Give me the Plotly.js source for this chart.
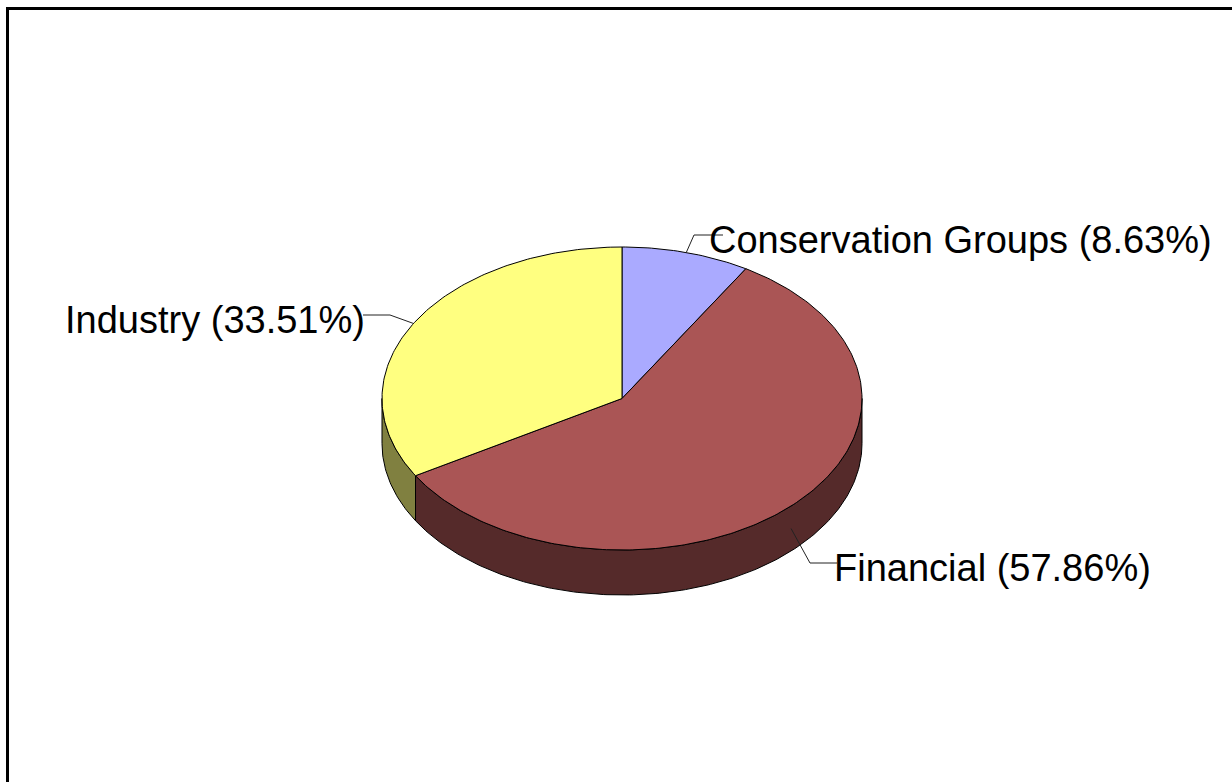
<!DOCTYPE html>
<html>
<head>
<meta charset="utf-8">
<script src="https://cdn.plot.ly/plotly-3.0.1.min.js"></script>
<style>html,body{margin:0;padding:0;background:#fff}#chart{width:1232px;height:782px}</style>
</head>
<body>
<div id="chart"></div>
<script>
// Funding sources, in drawing order clockwise from twelve o'clock
const categories = ['Conservation Groups', 'Financial', 'Industry'];
const shares = [8.63, 57.86, 33.51];
const topColors = ['#AAAAFF', '#AA5555', '#FFFF80'];
const sideColors = ['#555580', '#552A2A', '#808040'];

// Tilted-disc geometry, in axis units (the axes span the page one unit per pixel)
const cx = 622, cy = 398.5, rx = 240, ry = 151.5, depth = 45;
const pageW = 1232, pageH = 782;

// Leader elbows and label anchors per category
const elbows = [[694, 235], [810, 563], [390, 315]];
const leaderEnds = [[723, 235], [837, 563], [363, 315]];
const labelPos = [[707, 240], [832, 568], [63, 320]];
const labelFontSize = 38;

const rad = p => p / 100 * 2 * Math.PI;
const rimPoint = (p, drop) => [cx + rx * Math.sin(rad(p)), cy - ry * Math.cos(rad(p)) + drop];

function arc(p0, p1, drop) {
  const steps = Math.max(2, Math.ceil((p1 - p0) * 4));
  const pts = [];
  for (let i = 0; i <= steps; i++) pts.push(rimPoint(p0 + (p1 - p0) * i / steps, drop));
  return pts;
}

function polygon(pts, fill) {
  return {
    x: pts.map(p => p[0]), y: pts.map(p => p[1]),
    type: 'scatter', mode: 'lines', fill: 'toself', fillcolor: fill,
    line: {color: '#000', width: 1}, hoverinfo: 'skip', showlegend: false
  };
}

const walls = [], tops = [], leaders = [], annotations = [];
let start = 0;
shares.forEach((v, i) => {
  const end = start + v, mid = start + v / 2;

  // The wall exists only on the front half of the rim (25%..75% of the turn)
  const a = Math.max(start, 25), b = Math.min(end, 75);
  if (b > a) {
    walls.push(polygon([...arc(a, b, 0), ...arc(a, b, depth).reverse(), rimPoint(a, 0)], sideColors[i]));
  }

  tops.push(polygon([[cx, cy], ...arc(start, end, 0), [cx, cy]], topColors[i]));

  // Leaders start at the slice's mid-angle, on the wall when that faces the viewer
  const anchor = rimPoint(mid, mid > 25 && mid < 75 ? depth / 2 : 0);
  const path = [anchor, elbows[i], leaderEnds[i]];
  leaders.push({
    x: path.map(p => p[0]), y: path.map(p => p[1]),
    type: 'scatter', mode: 'lines', line: {color: '#222', width: 1},
    hoverinfo: 'skip', showlegend: false
  });

  annotations.push({
    x: labelPos[i][0], y: labelPos[i][1], xref: 'x', yref: 'y',
    xanchor: 'left', yanchor: 'middle', showarrow: false,
    text: `${categories[i]} (${v.toFixed(2)}%)`,
    font: {family: 'Liberation Sans, Arial, sans-serif', size: labelFontSize, color: '#000'}
  });
  start = end;
});

const hidden = {visible: false, fixedrange: true};
const layout = {
  width: pageW, height: pageH,
  margin: {l: 0, r: 0, t: 0, b: 0},
  paper_bgcolor: '#fff', plot_bgcolor: '#fff',
  xaxis: {...hidden, range: [0, pageW]},
  yaxis: {...hidden, range: [pageH, 0]},
  annotations,
  shapes: [
    {type: 'rect', xref: 'x', yref: 'y', x0: 6, x1: 9, y0: 7, y1: pageH, fillcolor: '#000', line: {width: 0}},
    {type: 'rect', xref: 'x', yref: 'y', x0: 6, x1: pageW, y0: 7, y1: 10, fillcolor: '#000', line: {width: 0}}
  ]
};

Plotly.newPlot('chart', [...walls, ...tops, ...leaders], layout, {displayModeBar: false, staticPlot: true});
</script>
</body>
</html>
